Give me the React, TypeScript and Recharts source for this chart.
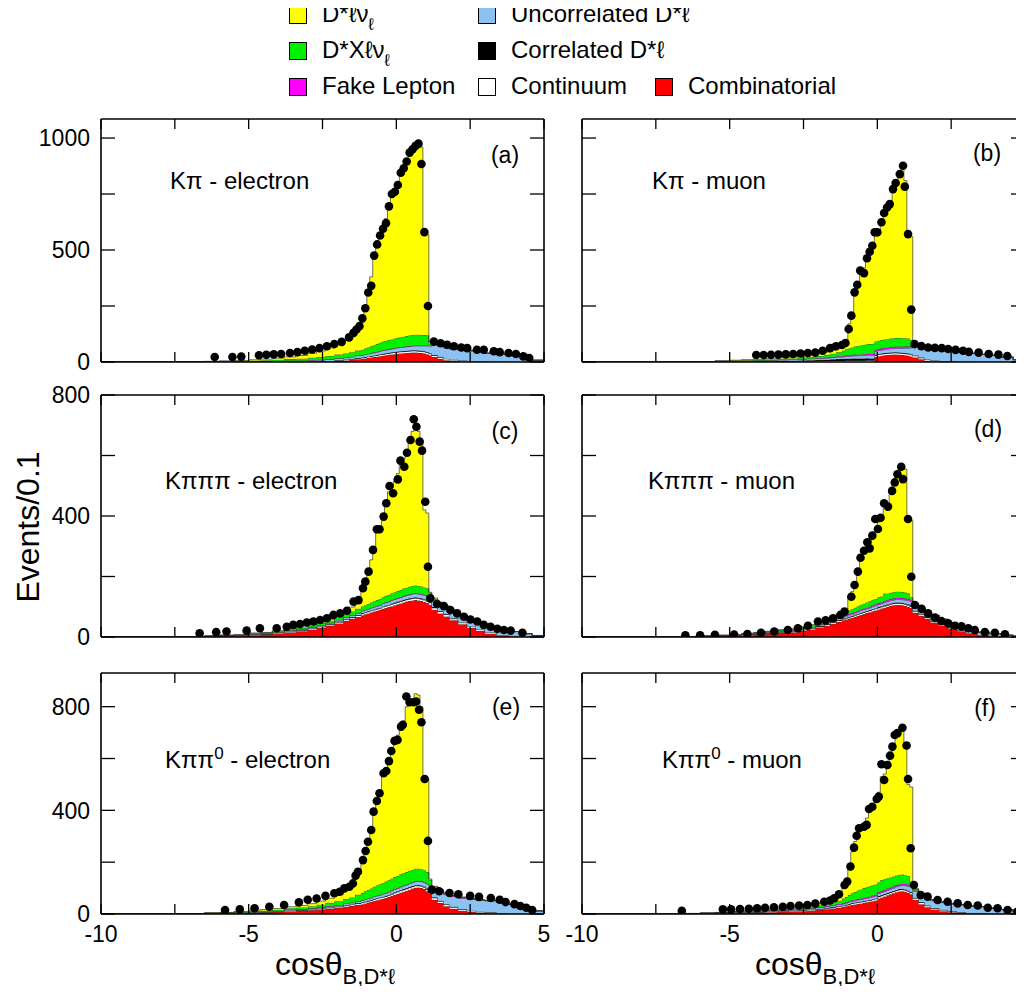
// Six stacked step histograms (cos theta_B,D*l) with data points on top.
// Each panel: MC components stacked with Recharts Areas (stepAfter), data as a Scatter.
import React from 'react'
import { ComposedChart, Area, Scatter, XAxis, YAxis } from 'recharts'

const FONT = '"Liberation Sans", Arial, Helvetica, sans-serif'

// ── Bin left edges (the last value closes the last bin) ─────────────────────
// coarse in the tails, 0.1 wide around the peak
const EDGES = [
  -10, -7.5, -6.5, -6, -5.5, -5, -4.6, -4.2, -3.8, -3.4, -3.0, -2.7, -2.4, -2.1, -1.8, -1.6, -1.4,
  -1.2, -1.1, -1.0, -0.9, -0.8, -0.7, -0.6, -0.5, -0.4, -0.3, -0.2, -0.1, 0, 0.1, 0.2, 0.3, 0.4, 0.5, 0.6, 0.7, 0.8, 0.9, 1.0, 1.1,
  1.2, 1.4, 1.6, 1.8, 2.1, 2.4, 2.7, 3.0, 3.4, 3.8, 4.2, 4.6,
  5.0,
]

const X_TICKS = [-10, -7.5, -5, -2.5, 0, 2.5, 5]
const X_LABELS = [-10, -5, 0, 5]

// ── (a) Kπ - electron ───────────────────────────────────────────────────────
const A_COMB = [0,0,0,0,0,0,0,0,0,0,0,1,2,4,6,9,12,
  14,16,18,20,22,24,26,28,30,32,34,35,37,38,39,40,41,42,42,41,40,38,35,30,
  22,14,8,4,2,1,0,0,0,0,0,0]
const A_CONT = [0,0,0,0,0,0,0,0,0,0,1,1,2,2,3,3,4,
  4,4,5,5,5,5,6,6,6,6,6,7,7,7,7,7,7,7,7,7,7,7,7,7,
  7,7,6,5,4,3,2,1,0,0,0,0]
const A_CORR = [0,0,0,0,0,0,0,0,1,1,1,1,1,2,2,2,2,
  2,2,2,2,2,2,3,3,3,3,3,3,3,3,3,3,3,3,3,3,3,3,3,2,
  2,2,1,1,1,1,0,0,0,0,0,0]
const A_UNC = [0,1,1,2,2,3,3,4,5,5,6,6,7,8,8,9,10,
  10,11,11,12,12,13,13,14,14,15,15,16,16,17,17,18,18,19,20,21,22,24,27,32,
  45,48,48,47,46,44,42,38,34,28,20,8]
const A_FAKE = [0,0,0,0,0,0,1,1,1,1,1,1,1,1,1,1,1,
  1,1,1,1,2,2,2,2,2,2,2,2,2,2,2,2,2,2,2,2,2,2,2,2,
  2,1,1,1,1,1,1,0,0,0,0,0]
const A_DX = [0,0,1,1,2,3,4,5,6,8,10,12,14,16,18,20,22,
  24,26,28,30,32,34,36,38,39,40,41,42,43,44,45,46,47,48,48,48,47,46,45,8,
  5,4,3,3,2,2,1,1,1,0,0,0]
const A_DLNU = [0,0,1,2,3,4,5,7,10,14,20,27,36,46,58,80,100,
  120,190,255,310,385,440,479,509,546,592,634,665,692,724,757,784,812,829,843,853,839,470,451,8,
  3,2,1,0,0,0,0,0,0,0,0,0]
const A_DATA: [number, number][] = [
  [-6.15,22],[-5.55,22],[-5.25,24],[-4.65,30],[-4.4,32],[-4.15,34],[-3.9,36],[-3.6,40],[-3.35,44],[-3.1,50],
  [-2.85,56],[-2.6,62],[-2.35,70],[-2.1,80],[-1.85,90],[-1.6,110],[-1.45,130],[-1.35,145],[-1.25,160],[-1.15,195],
  [-1.05,240],[-0.95,310],[-0.85,340],[-0.75,475],[-0.65,525],[-0.55,565],[-0.45,595],[-0.35,620],[-0.25,695],[-0.15,750],
  [-0.05,760],[0.05,790],[0.15,845],[0.25,865],[0.35,895],[0.45,935],[0.55,950],[0.65,965],[0.75,975],[0.85,884],
  [0.95,580],[1.07,250],[1.27,91],[1.5,84],[1.72,77],[1.95,70],[2.2,65],[2.4,62],[2.73,55],[2.96,55],
  [3.3,48],[3.5,44],[3.8,40],[4.05,36],[4.3,25],[4.5,18],
]

// ── (b) Kπ - muon ───────────────────────────────────────────────────────────
const B_COMB = [0,0,0,0,0,0,0,0,0,0,0,0,0,0,0,0,0,
  0,0,0,0,0,0,0,0,0,0,0,22,26,28,30,31,32,33,33,32,31,30,28,25,
  20,12,5,2,0,0,0,0,0,0,0,0]
const B_CONT = [0,0,0,0,0,1,1,1,1,2,2,3,3,4,4,5,5,
  5,6,6,6,6,6,6,6,7,7,7,7,7,7,7,7,7,7,7,7,7,7,7,7,
  7,6,5,4,3,2,1,1,0,0,0,0]
const B_CORR = [0,0,0,0,1,1,1,2,2,3,3,4,5,5,6,7,8,
  8,9,9,10,10,10,10,10,10,9,9,4,3,3,3,3,3,3,3,3,3,3,3,3,
  2,2,1,1,1,1,0,0,0,0,0,0]
const B_UNC = [0,0,1,1,2,2,3,3,4,4,5,5,6,6,7,8,9,
  9,10,10,11,11,12,12,13,13,14,14,14,15,15,16,16,17,17,18,19,20,22,24,28,
  40,44,45,45,46,45,42,38,34,30,22,10]
const B_FAKE = [0,0,0,0,0,1,1,1,1,1,1,2,2,2,3,3,4,
  4,5,5,5,6,6,6,6,7,7,7,7,7,8,8,8,8,8,8,8,8,8,8,6,
  4,3,2,2,1,1,1,0,0,0,0,0]
const B_DX = [0,0,0,0,1,1,2,2,3,4,5,6,8,10,12,14,17,
  24,27,30,33,36,38,40,41,42,43,44,38,37,37,37,37,38,38,38,38,37,36,35,30,
  4,3,2,2,1,1,1,0,0,0,0,0]
const B_DLNU = [0,0,0,1,1,2,2,3,4,5,6,7,9,11,13,16,20,
  25,28,110,155,231,278,326,344,381,415,449,478,495,527,559,593,615,664,693,728,764,704,470,461,
  3,2,1,0,0,0,0,0,0,0,0,0]
const B_DATA: [number, number][] = [
  [-4.1,31],[-3.85,31],[-3.6,32],[-3.35,33],[-3.1,34],[-2.85,36],[-2.6,38],[-2.35,40],[-2.1,42],[-1.85,50],
  [-1.6,62],[-1.4,70],[-1.2,76],[-1.08,85],[-0.97,147],[-0.88,207],[-0.77,311],[-0.68,345],[-0.58,408],[-0.45,397],
  [-0.35,463],[-0.26,492],[-0.17,519],[-0.09,579],[0.0,579],[0.14,624],[0.23,665],[0.33,690],[0.42,705],[0.53,772],
  [0.62,799],[0.76,839],[0.87,876],[0.93,783],[1.04,571],[1.15,234],[1.26,80],[1.49,71],[1.72,65],[1.95,63],
  [2.18,62],[2.4,58],[2.65,54],[2.9,50],[3.1,45],[3.43,42],[3.77,36],[4.1,33],[4.4,27],
]

// ── (c) Kπππ - electron ─────────────────────────────────────────────────────
const C_COMB = [0,1,2,3,4,6,8,11,15,19,24,30,37,45,53,60,66,
  72,75,78,81,84,87,90,93,96,99,102,105,108,111,114,117,119,121,122,121,119,116,112,107,
  90,78,68,55,42,30,20,11,5,2,0,0]
const C_CONT = [0,0,0,1,1,1,1,2,2,2,3,3,3,4,4,4,5,
  5,5,5,5,5,5,5,6,6,6,6,6,6,6,6,6,6,6,6,6,6,6,6,6,
  6,6,6,5,5,4,4,3,2,2,1,0]
const C_CORR = [0,0,0,0,0,1,1,1,1,1,1,2,2,2,2,2,2,
  2,2,2,2,2,2,2,2,2,2,3,3,3,3,3,3,3,3,3,3,3,3,3,3,
  3,2,2,2,1,1,1,1,0,0,0,0]
const C_UNC = [0,0,1,1,1,2,2,2,3,3,3,4,4,5,5,6,6,
  7,7,7,8,8,8,8,9,9,9,10,10,10,10,11,11,11,12,12,12,12,13,14,16,
  20,22,22,22,21,20,19,18,16,14,10,5]
const C_FAKE = [0,0,0,0,0,0,0,0,1,1,1,1,1,1,1,1,1,
  1,1,1,1,1,1,1,1,2,2,2,2,2,2,2,2,2,2,2,2,2,2,2,2,
  2,1,1,1,1,1,0,0,0,0,0,0]
const C_DX = [0,0,0,1,1,2,2,3,3,4,5,6,7,8,10,11,13,
  14,15,16,17,18,19,20,20,21,21,22,22,23,23,24,24,25,25,25,25,25,24,24,12,
  5,4,3,3,2,2,1,1,1,0,0,0]
const C_DLNU = [0,0,0,0,0,1,1,2,2,3,3,4,5,6,8,15,25,
  59,80,111,141,177,223,239,264,304,341,350,367,388,420,430,452,484,511,520,511,483,256,249,2,
  3,2,1,1,0,0,0,0,0,0,0,0]
const C_DATA: [number, number][] = [
  [-6.66,12],[-6.1,16],[-5.75,18],[-5.07,21],[-4.62,29],[-4.05,29],[-3.71,34],[-3.49,40],[-3.26,43],[-3.03,48],
  [-2.81,51],[-2.58,56],[-2.35,62],[-2.13,73],[-1.9,78],[-1.67,87],[-1.45,117],[-1.28,122],[-1.13,161],[-1.05,183],
  [-0.94,216],[-0.79,288],[-0.66,356],[-0.57,356],[-0.43,398],[-0.34,442],[-0.23,499],[-0.11,475],[0.05,521],[0.14,583],
  [0.27,563],[0.36,609],[0.48,651],[0.59,720],[0.68,695],[0.79,646],[0.87,616],[0.98,447],[1.07,232],[1.15,128],
  [1.38,109],[1.61,102],[1.83,89],[2.06,78],[2.29,67],[2.51,58],[2.74,51],[2.96,40],[3.19,34],[3.42,27],
  [3.64,23],[3.87,21],[4.27,14],
]

// ── (d) Kπππ - muon ─────────────────────────────────────────────────────────
const D_COMB = [0,0,1,2,3,4,6,8,10,13,16,20,25,31,37,43,50,
  55,58,61,64,67,70,73,76,79,82,85,88,91,94,97,100,103,105,106,106,105,103,100,96,
  80,70,60,48,38,28,19,11,5,2,0,0]
const D_CONT = [0,0,0,0,1,1,1,1,2,2,2,3,3,3,4,4,4,
  4,4,4,4,5,5,5,5,5,5,5,5,5,5,5,5,5,5,5,5,5,5,5,5,
  5,5,4,4,3,3,2,2,1,1,0,0]
const D_CORR = [0,0,0,0,0,0,1,1,1,1,1,1,1,2,2,2,2,
  2,2,2,2,2,2,2,2,2,2,2,2,3,3,3,3,3,3,3,3,3,3,3,3,
  2,2,2,1,1,1,1,0,0,0,0,0]
const D_UNC = [0,0,0,1,1,1,2,2,2,3,3,3,4,4,4,5,5,
  5,5,6,6,6,6,7,7,7,7,8,8,8,8,9,9,9,9,10,10,10,11,12,14,
  16,17,17,16,15,14,13,12,10,8,6,3]
const D_FAKE = [0,0,0,0,0,0,0,0,1,1,1,1,1,2,2,2,2,
  2,3,3,3,3,4,4,4,4,5,5,5,5,5,6,6,6,6,6,6,6,6,6,5,
  3,2,2,1,1,1,0,0,0,0,0,0]
const D_DX = [0,0,0,0,1,1,1,2,2,3,3,4,5,6,7,8,9,
  10,11,12,13,14,15,16,16,17,17,18,18,19,19,24,20,20,20,20,20,20,19,19,8,
  4,3,2,2,1,1,1,0,0,0,0,0]
const D_DLNU = [0,0,0,0,0,0,1,1,1,1,1,2,2,3,3,4,5,
  7,7,47,58,83,113,153,175,186,192,212,234,249,261,296,292,334,362,385,405,416,408,245,254,
  2,1,0,0,0,0,0,0,0,0,0,0]
const D_DATA: [number, number][] = [
  [-6.5,6],[-6.0,6],[-5.5,7],[-4.85,8],[-4.4,10],[-3.94,14],[-3.49,18],[-3.03,23],[-2.69,29],[-2.35,37],
  [-2.01,51],[-1.75,55],[-1.5,62],[-1.25,73],[-1.11,84],[-0.88,133],[-0.77,172],[-0.66,216],[-0.57,262],[-0.45,285],
  [-0.34,313],[-0.26,293],[-0.17,335],[-0.07,390],[0.02,357],[0.11,394],[0.23,442],[0.36,431],[0.5,483],[0.59,511],
  [0.68,538],[0.81,563],[0.87,522],[1.04,390],[1.15,199],[1.27,106],[1.5,93],[1.72,78],[1.95,64],[2.17,53],
  [2.4,45],[2.63,37],[2.85,35],[3.08,29],[3.3,23],[3.64,16],[3.98,14],[4.32,9],
]

// ── (e) Kππ0 - electron ─────────────────────────────────────────────────────
const E_COMB = [0,1,2,3,4,5,6,8,10,12,14,17,20,24,28,31,35,
  38,41,44,47,50,53,56,59,62,66,70,74,78,82,86,90,94,98,101,102,100,96,88,78,
  55,42,30,20,13,8,5,3,1,0,0,0]
const E_CONT = [0,0,0,0,1,1,1,1,2,2,2,3,3,3,4,4,5,
  5,5,5,5,6,6,6,6,6,6,6,7,7,7,7,7,7,7,7,7,7,7,7,7,
  7,7,6,6,5,4,3,3,2,1,1,0]
const E_CORR = [0,0,0,0,0,1,1,1,1,1,1,1,2,2,2,2,2,
  2,2,2,2,2,2,2,2,2,2,3,3,3,3,3,3,3,3,3,3,3,3,3,3,
  3,2,2,2,1,1,1,1,0,0,0,0]
const E_UNC = [0,0,1,1,1,2,2,2,3,3,4,4,5,5,6,6,7,
  7,8,8,8,9,9,9,10,10,10,11,11,11,12,12,12,13,13,14,14,15,16,18,22,
  32,36,38,40,42,43,44,44,42,36,26,12]
const E_FAKE = [0,0,0,0,0,0,0,0,1,1,1,1,1,1,1,1,1,
  1,1,1,1,1,1,1,1,2,2,2,2,2,2,2,2,2,2,2,2,2,2,2,2,
  2,1,1,1,1,1,0,0,0,0,0,0]
const E_DX = [0,0,1,1,2,3,3,4,5,6,8,10,12,14,17,20,24,
  28,31,33,35,37,39,41,42,43,44,45,46,46,47,47,48,48,48,48,47,46,45,44,20,
  6,5,4,3,3,2,2,1,1,1,0,0]
const E_DLNU = [0,0,1,1,2,3,4,5,6,8,10,14,18,25,35,48,81,
  124,157,192,232,285,330,360,415,435,465,493,522,543,572,588,638,653,659,675,670,627,356,358,3,
  2,1,0,0,0,0,0,0,0,0,0,0]
const E_DATA: [number, number][] = [
  [-5.8,15],[-5.3,18],[-4.8,22],[-4.3,28],[-3.8,35],[-3.3,45],[-3.0,55],[-2.7,60],[-2.4,70],[-2.1,80],
  [-1.92,86],[-1.76,99],[-1.59,105],[-1.47,118],[-1.38,148],[-1.3,163],[-1.13,208],[-1.04,243],[-0.96,279],[-0.85,324],
  [-0.77,395],[-0.66,436],[-0.57,466],[-0.43,543],[-0.34,552],[-0.25,590],[-0.17,629],[-0.06,668],[0.04,672],[0.16,723],
  [0.22,730],[0.34,839],[0.45,817],[0.59,817],[0.67,820],[0.77,788],[0.85,740],[0.96,521],[1.07,282],[1.2,93],
  [1.45,88],[1.8,81],[2.1,76],[2.5,70],[2.8,66],[3.2,62],[3.5,55],[3.7,46],[4.0,38],[4.2,31],
  [4.4,24],[4.6,15],
]

// ── (f) Kππ0 - muon ─────────────────────────────────────────────────────────
const F_COMB = [0,0,1,2,3,4,5,6,7,8,10,11,13,15,18,21,24,
  27,30,33,35,37,39,41,43,45,47,49,52,60,64,68,72,76,80,84,87,88,86,82,76,
  55,38,26,17,11,7,4,2,1,0,0,0]
const F_CONT = [0,0,0,0,1,1,1,1,2,2,2,3,3,3,4,4,4,
  4,4,4,5,5,5,5,5,5,5,6,6,6,6,6,6,6,6,6,6,6,6,6,6,
  6,6,5,5,4,3,3,2,2,1,1,0]
const F_CORR = [0,0,0,0,0,1,1,1,1,1,1,1,1,2,2,2,2,
  2,2,2,2,2,2,2,2,2,2,2,2,3,3,3,3,3,3,3,3,3,3,3,3,
  2,2,2,1,1,1,1,0,0,0,0,0]
const F_UNC = [0,0,1,1,1,2,2,2,3,3,3,4,4,5,5,5,6,
  6,6,7,7,7,8,8,8,8,9,9,9,10,10,10,11,11,11,12,12,13,14,16,20,
  24,27,28,28,28,27,27,26,25,22,16,7]
const F_FAKE = [0,0,0,0,0,0,0,0,1,1,1,1,1,2,2,2,3,
  3,3,3,4,4,4,4,5,5,5,5,5,6,6,6,6,6,7,7,7,7,7,7,6,
  4,3,2,2,1,1,1,0,0,0,0,0]
const F_DX = [0,0,0,1,1,1,2,2,3,3,4,5,6,7,8,10,12,
  18,21,24,27,30,33,35,37,38,39,40,40,38,42,41,40,39,38,37,36,35,34,33,14,
  5,4,3,3,2,2,1,1,1,0,0,0]
const F_DLNU = [0,0,0,0,0,1,1,1,2,2,3,4,5,8,10,14,20,
  40,55,107,160,195,224,240,245,267,293,309,331,347,399,406,442,474,510,541,559,563,510,353,365,
  2,1,0,0,0,0,0,0,0,0,0,0]
const F_DATA: [number, number][] = [
  [-6.62,12],[-5.23,18],[-4.95,18],[-4.65,19],[-4.35,20],[-4.07,22],[-3.8,24],[-3.5,26],[-3.2,28],[-2.94,31],
  [-2.65,33],[-2.37,35],[-2.1,40],[-1.8,47],[-1.6,52],[-1.46,61],[-1.3,76],[-1.11,112],[-1.02,125],[-0.91,183],
  [-0.79,256],[-0.7,302],[-0.62,331],[-0.45,337],[-0.36,344],[-0.28,405],[-0.17,414],[-0.02,444],[0.05,453],[0.14,578],
  [0.23,517],[0.34,575],[0.43,611],[0.51,646],[0.59,691],[0.68,698],[0.85,719],[0.99,650],[1.04,521],[1.13,254],
  [1.24,112],[1.47,73],[1.7,67],[2.04,54],[2.38,47],[2.72,41],[3.06,35],[3.4,33],[3.74,24],[4.07,22],
  [4.41,15],[4.75,10],
]

// ── Stack order, bottom to top ─────────────────────────────────────────────
const SERIES = [
  { key: 'comb', color: '#ff0000' },
  { key: 'cont', color: '#ffffff' },
  { key: 'corr', color: '#000000' },
  { key: 'unc', color: '#8cc2f2' },
  { key: 'fake', color: '#ff00ff' },
  { key: 'dx', color: '#00f000' },
  { key: 'dlnu', color: '#ffff00' },
]

type PanelData = {
  comb: number[]; cont: number[]; corr: number[]; unc: number[]
  fake: number[]; dx: number[]; dlnu: number[]; data: [number, number][]
}

const PA: PanelData = { comb: A_COMB, cont: A_CONT, corr: A_CORR, unc: A_UNC, fake: A_FAKE, dx: A_DX, dlnu: A_DLNU, data: A_DATA }
const PB: PanelData = { comb: B_COMB, cont: B_CONT, corr: B_CORR, unc: B_UNC, fake: B_FAKE, dx: B_DX, dlnu: B_DLNU, data: B_DATA }
const PC: PanelData = { comb: C_COMB, cont: C_CONT, corr: C_CORR, unc: C_UNC, fake: C_FAKE, dx: C_DX, dlnu: C_DLNU, data: C_DATA }
const PD: PanelData = { comb: D_COMB, cont: D_CONT, corr: D_CORR, unc: D_UNC, fake: D_FAKE, dx: D_DX, dlnu: D_DLNU, data: D_DATA }
const PE: PanelData = { comb: E_COMB, cont: E_CONT, corr: E_CORR, unc: E_UNC, fake: E_FAKE, dx: E_DX, dlnu: E_DLNU, data: E_DATA }
const PF: PanelData = { comb: F_COMB, cont: F_CONT, corr: F_CORR, unc: F_UNC, fake: F_FAKE, dx: F_DX, dlnu: F_DLNU, data: F_DATA }

// one row per bin edge; the closing edge repeats the last bin so the step reaches x = 5
function buildRows(p: PanelData) {
  return EDGES.map((x, i) => {
    const k = Math.min(i, EDGES.length - 2)
    const row: any = { x }
    SERIES.forEach((s) => { row[s.key] = (p as any)[s.key][k] ?? 0 })
    return row
  })
}

const dotShape = (props: any) => <circle cx={props.cx} cy={props.cy} r={4.3} fill="#000" />

interface PanelProps {
  p: PanelData
  left: number
  top: number
  wL: number
  wR: number
  hB: number
  plotH: number
  yMax: number
  yTicks: number[]
  yLabels: number[]
  showY: boolean
  showX: boolean
}

const HT = 20       // room above each box
const PLOT_W = 443  // box width in px

function HistPanel({ p, left, top, wL, wR, hB, plotH, yMax, yTicks, yLabels, showY, showX }: PanelProps) {
  const rows = buildRows(p)
  const dots = p.data.map(([x, y]) => ({ x, y }))
  const axisLine = { stroke: '#000', strokeWidth: 1.6 }
  const tickLine = { stroke: '#000', strokeWidth: 1.3 }
  const tickFont = { fontSize: 23, fill: '#000', fontFamily: FONT }

  return (
    <div style={{ position: 'absolute', left, top }}>
      <ComposedChart
        width={wL + PLOT_W + wR}
        height={HT + plotH + hB}
        data={rows}
        margin={{ top: 0, right: 0, bottom: 0, left: 0 }}
      >
        {/* bottom axis: inward ticks, labels only on the last row */}
        <XAxis
          xAxisId="b" dataKey="x" type="number" domain={[-10, 5]} allowDataOverflow
          ticks={X_TICKS} interval={0} orientation="bottom" height={hB}
          tickSize={-10} tickMargin={22}
          tickFormatter={(v: number) => (showX && X_LABELS.includes(v) ? String(v) : '')}
          tick={tickFont} axisLine={axisLine} tickLine={tickLine}
        />
        {/* top axis: ticks only */}
        <XAxis
          xAxisId="t" dataKey="x" type="number" domain={[-10, 5]} allowDataOverflow
          ticks={X_TICKS} interval={0} orientation="top" height={HT}
          tickSize={-10} tickFormatter={() => ''}
          axisLine={axisLine} tickLine={tickLine}
        />
        <YAxis
          yAxisId="l" type="number" domain={[0, yMax]} allowDataOverflow
          ticks={yTicks} interval={0} orientation="left" width={wL}
          tickSize={-14} tickMargin={25}
          tickFormatter={(v: number) => (showY && yLabels.includes(v) ? String(v) : '')}
          tick={tickFont} axisLine={axisLine} tickLine={tickLine}
        />
        <YAxis
          yAxisId="r" dataKey="y" type="number" domain={[0, yMax]} allowDataOverflow
          ticks={yTicks} interval={0} orientation="right" width={wR}
          tickSize={-14} tickFormatter={() => ''}
          axisLine={axisLine} tickLine={tickLine}
        />

        {/* MC components, stacked */}
        {SERIES.map((s) => (
          <Area
            key={s.key}
            xAxisId="b"
            yAxisId="l"
            type="stepAfter"
            dataKey={s.key}
            stackId="mc"
            fill={s.color}
            fillOpacity={1}
            stroke="#333"
            strokeWidth={0.7}
            dot={false}
            activeDot={false}
            isAnimationActive={false}
          />
        ))}

        {/* data points */}
        <Scatter xAxisId="t" yAxisId="r" data={dots} dataKey="y" shape={dotShape} isAnimationActive={false} />
      </ComposedChart>
    </div>
  )
}

// ── Text helpers ────────────────────────────────────────────────────────────
// fixed px line-height so fallback glyphs (ℓ, ν) cannot stretch the line box
function Label({ x, y, size, children, anchor = 'left' }: any) {
  return (
    <div style={{
      position: 'absolute', left: x, top: y - size / 2, height: size,
      fontSize: size, lineHeight: `${size}px`, whiteSpace: 'nowrap',
      transform: anchor === 'center' ? 'translateX(-50%)' : undefined,
    }}>
      {children}
    </div>
  )
}

function Sub({ children, size = 17, drop = 8 }: any) {
  return <span style={{ fontSize: size, lineHeight: '1px', position: 'relative', top: drop }}>{children}</span>
}

function Sup({ children }: any) {
  return <span style={{ fontSize: 17, lineHeight: '1px', position: 'relative', top: -9 }}>{children}</span>
}

function LegendItem({ x, y, color, children }: any) {
  return (
    <>
      <div style={{
        position: 'absolute', left: x, top: y - 8, width: 16, height: 16,
        background: color, border: '1px solid #000',
      }} />
      <Label x={x + 33} y={y} size={24}>{children}</Label>
    </>
  )
}

const ROW1 = { top: 119 - HT, plotH: 243, yMax: 1085, yTicks: [0, 250, 500, 750, 1000], yLabels: [0, 500, 1000] }
const ROW2 = { top: 395 - HT, plotH: 242, yMax: 800, yTicks: [0, 200, 400, 600, 800], yLabels: [0, 400, 800] }
const ROW3 = { top: 673 - HT, plotH: 241, yMax: 930, yTicks: [0, 200, 400, 600, 800], yLabels: [0, 400, 800] }

export default function App() {
  const leftCol = { left: 0, wL: 101, wR: 16, showY: true }
  const rightCol = { left: 550, wL: 32, wR: 10, showY: false }

  return (
    <div style={{
      position: 'relative', width: 1024, height: 994, margin: -8, overflow: 'hidden',
      background: '#fff', fontFamily: FONT, color: '#000',
    }}>
      {/* legend */}
      <LegendItem x={289} y={14} color="#ffff00">D*ℓν<Sub>ℓ</Sub></LegendItem>
      <LegendItem x={289} y={50} color="#00f000">D*Xℓν<Sub>ℓ</Sub></LegendItem>
      <LegendItem x={289} y={86} color="#ff00ff">Fake Lepton</LegendItem>
      <LegendItem x={478} y={14} color="#8cc2f2">Uncorrelated D*ℓ</LegendItem>
      <LegendItem x={478} y={50} color="#000000">Correlated D*ℓ</LegendItem>
      <LegendItem x={478} y={86} color="#ffffff">Continuum</LegendItem>
      <LegendItem x={655} y={86} color="#ff0000">Combinatorial</LegendItem>

      <HistPanel p={PA} {...leftCol} {...ROW1} hB={20} showX={false} />
      <HistPanel p={PB} {...rightCol} {...ROW1} hB={20} showX={false} />
      <HistPanel p={PC} {...leftCol} {...ROW2} hB={20} showX={false} />
      <HistPanel p={PD} {...rightCol} {...ROW2} hB={20} showX={false} />
      <HistPanel p={PE} {...leftCol} {...ROW3} hB={40} showX={true} />
      <HistPanel p={PF} {...rightCol} {...ROW3} hB={40} showX={true} />

      {/* channel names */}
      <Label x={170} y={181} size={24}>Kπ - electron</Label>
      <Label x={652} y={181} size={24}>Kπ - muon</Label>
      <Label x={165} y={481} size={24}>Kπππ - electron</Label>
      <Label x={648} y={481} size={24}>Kπππ - muon</Label>
      <Label x={165} y={760} size={24}>Kππ<Sup>0</Sup> - electron</Label>
      <Label x={662} y={760} size={24}>Kππ<Sup>0</Sup> - muon</Label>

      {/* panel letters */}
      <Label x={505} y={155} size={23} anchor="center">(a)</Label>
      <Label x={987} y={153} size={23} anchor="center">(b)</Label>
      <Label x={505} y={431} size={23} anchor="center">(c)</Label>
      <Label x={988} y={429} size={23} anchor="center">(d)</Label>
      <Label x={506} y={707} size={23} anchor="center">(e)</Label>
      <Label x={985} y={708} size={23} anchor="center">(f)</Label>

      {/* axis titles */}
      <Label x={275} y={964} size={32}>cosθ<Sub size={22} drop={9}>B,D*ℓ</Sub></Label>
      <Label x={755} y={964} size={32}>cosθ<Sub size={22} drop={9}>B,D*ℓ</Sub></Label>
      <div style={{
        position: 'absolute', left: 28, top: 527, fontSize: 32, lineHeight: '32px', whiteSpace: 'nowrap',
        transform: 'translate(-50%, -50%) rotate(-90deg)',
      }}>
        Events/0.1
      </div>
    </div>
  )
}
